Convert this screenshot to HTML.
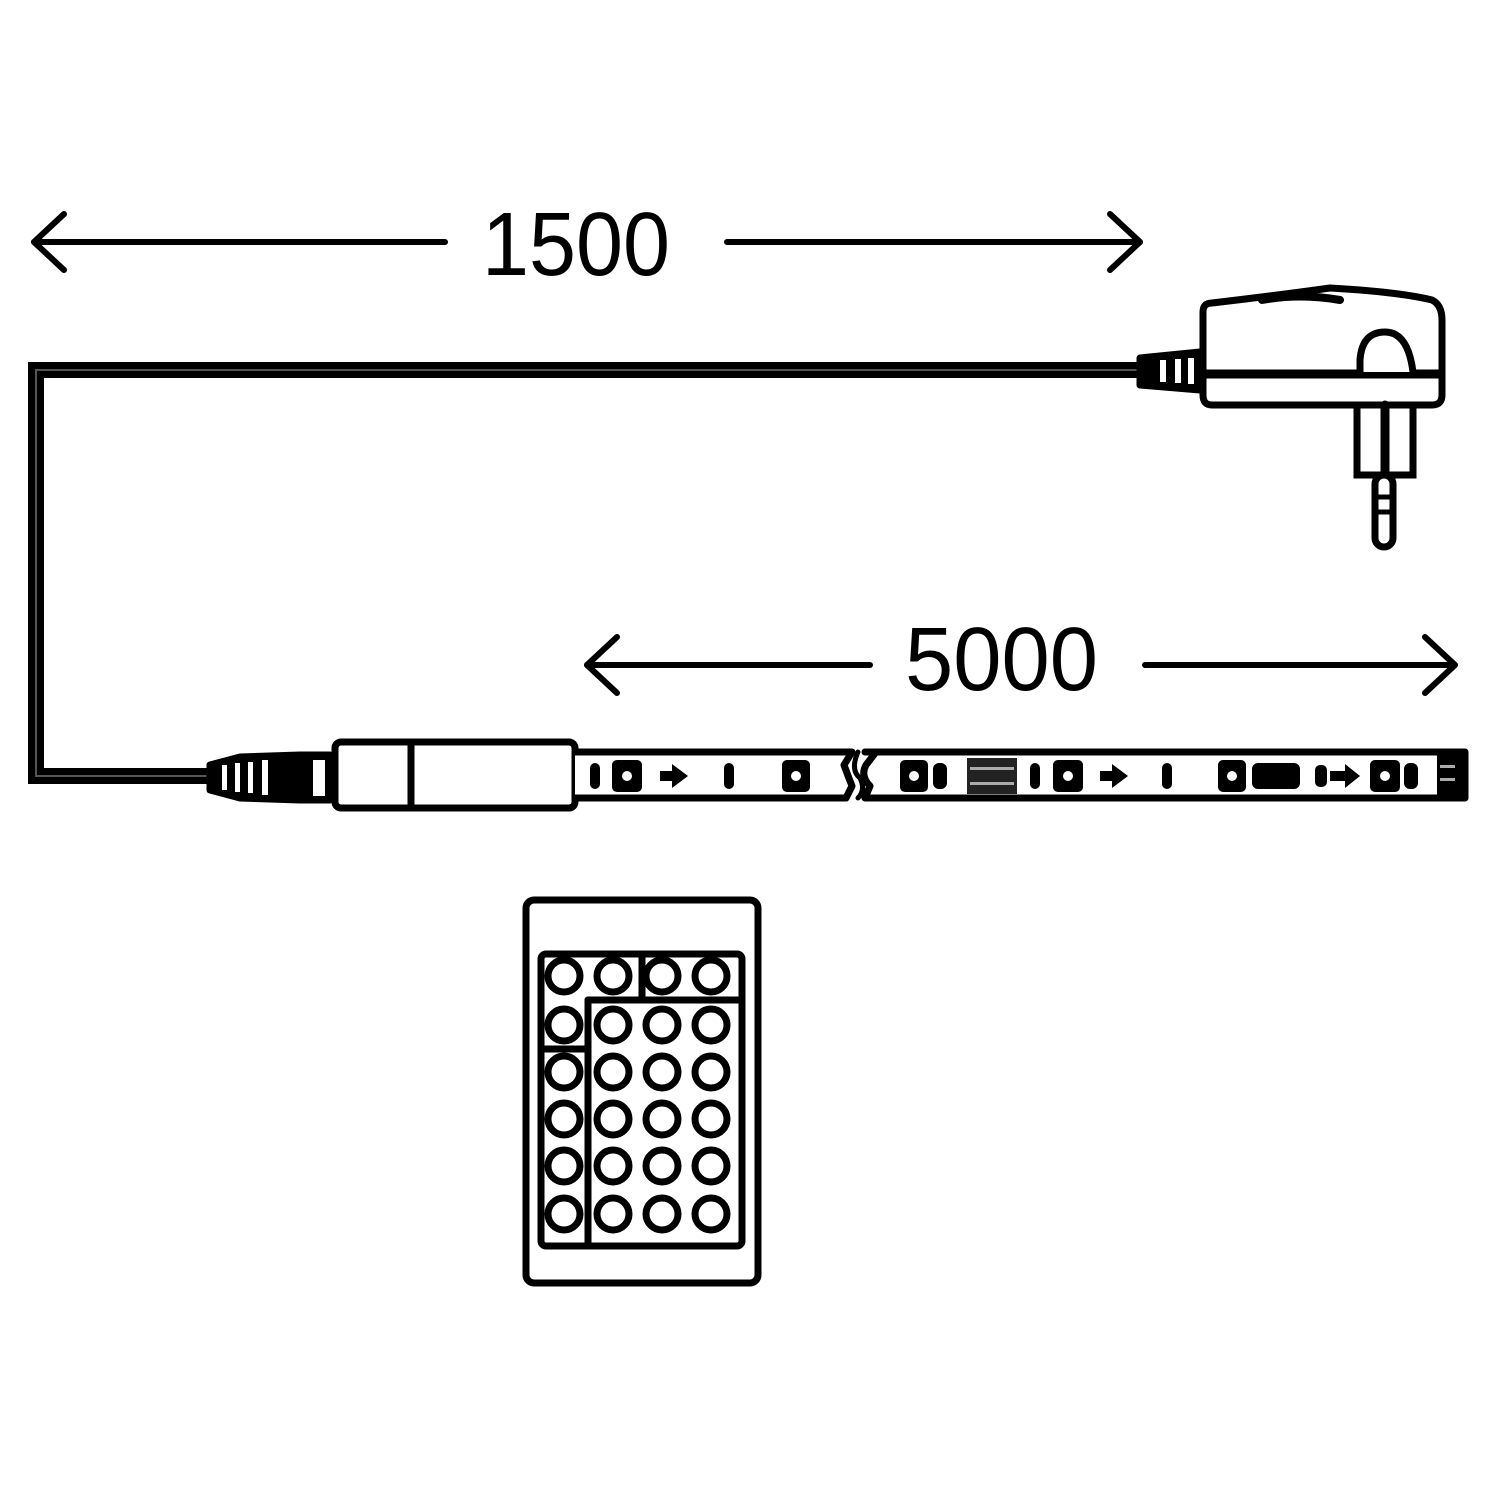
<!DOCTYPE html>
<html><head><style>html,body{margin:0;padding:0;background:#fff}svg{display:block}</style></head>
<body>
<svg width="1500" height="1500" viewBox="0 0 1500 1500" xmlns="http://www.w3.org/2000/svg" fill="none" stroke="#000" stroke-linecap="round" stroke-linejoin="round">
<!-- dimension 1500 -->
<g stroke-width="6">
<line x1="34" y1="242" x2="445" y2="242"/>
<polyline points="64,214 34,242 64,270"/>
<line x1="727" y1="242" x2="1140" y2="242"/>
<polyline points="1110,214 1140,242 1110,270"/>
<line x1="587" y1="665" x2="870" y2="665"/>
<polyline points="617,637 587,665 617,693"/>
<line x1="1145" y1="665" x2="1455" y2="665"/>
<polyline points="1425,637 1455,665 1425,693"/>
</g>
<text x="482" y="275" font-family="Liberation Sans, sans-serif" font-size="90" fill="#000" stroke="none" textLength="188" lengthAdjust="spacingAndGlyphs">1500</text>
<text x="905" y="690" font-family="Liberation Sans, sans-serif" font-size="90" fill="#000" stroke="none" textLength="193" lengthAdjust="spacingAndGlyphs">5000</text>
<!-- cable -->
<path d="M1145,370 L36,370 L36,776 L215,776" stroke-width="16" stroke-linecap="butt" stroke-linejoin="miter"/>
<path d="M1145,370 L36,370 L36,776 L215,776" stroke="#555" stroke-width="2" stroke-linecap="butt" stroke-linejoin="miter"/>
<!-- plug -->
<g stroke-width="7">
<path d="M1140,358 L1200,352 L1200,390 L1140,385 Z" fill="#000"/>
<rect x="1160" y="360" width="6" height="22" fill="#fff" stroke="none"/>
<rect x="1175" y="359" width="6" height="24" fill="#fff" stroke="none"/>
<rect x="1188" y="358" width="6" height="26" fill="#fff" stroke="none"/>
<path d="M1212,303 Q1280,295 1330,288 Q1400,292 1432,300 Q1442,305 1442,320 L1442,395 Q1442,405 1432,405 L1212,405 Q1203,405 1203,395 L1203,312 Q1203,303 1212,303 Z" fill="#fff"/>
<path d="M1262,300 Q1300,293 1340,300" stroke-width="8"/>
<line x1="1205" y1="374" x2="1440" y2="374" stroke-width="9"/>
<path d="M1360,372 L1360,360 Q1362,332 1385,332 Q1408,332 1413,372" fill="#fff"/>
<rect x="1357" y="405" width="56" height="70" fill="#fff" stroke-linejoin="miter"/>
<line x1="1385" y1="405" x2="1385" y2="475" stroke-width="9"/>
<rect x="1375" y="475" width="18" height="72" rx="9" fill="#fff"/>
<line x1="1377" y1="497" x2="1391" y2="497" stroke-width="5"/>
<line x1="1377" y1="512" x2="1391" y2="512" stroke-width="5"/>
</g>
<!-- connector -->
<g stroke-width="7">
<path d="M210,765 L240,757 L300,755 L330,755 L330,800 L300,800 L240,798 L210,790 Z" fill="#000"/>
<rect x="222" y="765" width="5" height="25" fill="#fff" stroke="none"/>
<rect x="235" y="763" width="5" height="29" fill="#fff" stroke="none"/>
<rect x="248" y="762" width="5" height="31" fill="#fff" stroke="none"/>
<rect x="262" y="760" width="6" height="35" fill="#fff" stroke="none"/>
<rect x="313" y="760" width="12" height="36" fill="#fff" stroke="none"/>
<rect x="335" y="742" width="240" height="66" rx="6" fill="#fff"/>
<line x1="411" y1="742" x2="411" y2="808"/>
<path d="M575,752 L852,752 L844,765 Q848,776 852,786 L846,798 L575,798" fill="#fff"/>
<path d="M865,752 L1465,752 L1465,798 L865,798 L870,786 Q860,776 866,765 L876,752" fill="#fff"/>
<path d="M858,752 Q850,770 860,778 Q866,790 858,798" stroke-width="5"/>
</g>
<g fill="#000" stroke="none">
<rect x="590" y="763" width="10" height="26" rx="5"/>
<rect x="612" y="760" width="30" height="32" rx="5"/><circle cx="627" cy="776" r="5" fill="#fff"/>
<path d="M660,771 L672,771 L672,764 L688,776 L672,788 L672,781 L660,781 Z"/>
<rect x="724" y="763" width="10" height="26" rx="5"/>
<rect x="782" y="760" width="28" height="32" rx="5"/><circle cx="796" cy="776" r="5" fill="#fff"/>
<rect x="900" y="760" width="28" height="32" rx="5"/><circle cx="914" cy="776" r="5" fill="#fff"/>
<rect x="933" y="763" width="14" height="26" rx="6"/>
<rect x="967" y="758" width="50" height="36" fill="#222"/>
<rect x="970" y="767" width="44" height="3" fill="#aaa"/><rect x="970" y="782" width="44" height="3" fill="#aaa"/>
<rect x="1030" y="763" width="10" height="26" rx="5"/>
<rect x="1053" y="760" width="30" height="32" rx="5"/><circle cx="1068" cy="776" r="5" fill="#fff"/>
<path d="M1100,771 L1112,771 L1112,764 L1128,776 L1112,788 L1112,781 L1100,781 Z"/>
<rect x="1162" y="763" width="10" height="26" rx="5"/>
<rect x="1218" y="760" width="28" height="32" rx="5"/><circle cx="1232" cy="776" r="5" fill="#fff"/>
<rect x="1252" y="763" width="48" height="26" rx="6"/>
<rect x="1315" y="765" width="12" height="22" rx="5"/>
<path d="M1330,771 L1345,771 L1345,764 L1360,776 L1345,788 L1345,781 L1330,781 Z"/>
<rect x="1370" y="760" width="30" height="32" rx="5"/><circle cx="1385" cy="776" r="5" fill="#fff"/>
<rect x="1404" y="763" width="14" height="26" rx="6"/>
<rect x="1437" y="752" width="28" height="46"/>
<rect x="1440" y="765" width="15" height="3" fill="#aaa"/><rect x="1440" y="778" width="15" height="3" fill="#aaa"/>
</g>
<!-- remote -->
<g stroke-width="7">
<rect x="526" y="900" width="232" height="383" rx="8" fill="#fff"/>
<rect x="541" y="954" width="201" height="292" rx="5"/>
<line x1="588" y1="1000" x2="588" y2="1246"/>
<line x1="588" y1="1000" x2="742" y2="1000"/>
<line x1="642" y1="954" x2="642" y2="1000"/>
<line x1="541" y1="1049" x2="588" y2="1049"/>
<circle cx="564" cy="976" r="16"/><circle cx="613" cy="976" r="16"/><circle cx="662" cy="976" r="16"/><circle cx="711" cy="976" r="16"/>
<g>
<circle cx="564" cy="1025" r="16"/><circle cx="613" cy="1025" r="16"/><circle cx="662" cy="1025" r="16"/><circle cx="711" cy="1025" r="16"/>
<circle cx="564" cy="1072" r="16"/><circle cx="613" cy="1072" r="16"/><circle cx="662" cy="1072" r="16"/><circle cx="711" cy="1072" r="16"/>
<circle cx="564" cy="1119" r="16"/><circle cx="613" cy="1119" r="16"/><circle cx="662" cy="1119" r="16"/><circle cx="711" cy="1119" r="16"/>
<circle cx="564" cy="1166" r="16"/><circle cx="613" cy="1166" r="16"/><circle cx="662" cy="1166" r="16"/><circle cx="711" cy="1166" r="16"/>
<circle cx="564" cy="1214" r="16"/><circle cx="613" cy="1214" r="16"/><circle cx="662" cy="1214" r="16"/><circle cx="711" cy="1214" r="16"/>
</g>
</g>
</svg>
</body></html>
